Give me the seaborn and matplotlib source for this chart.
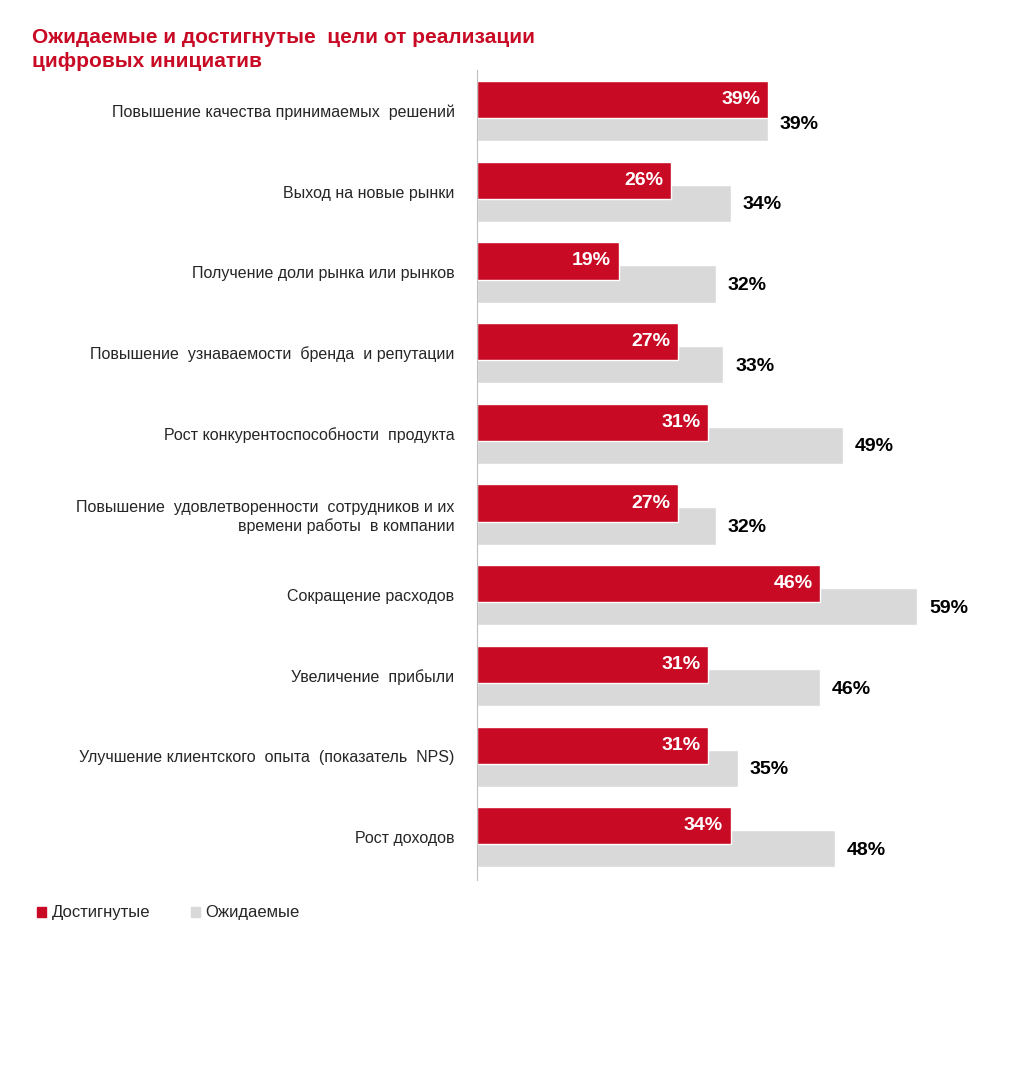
import numpy as np
import seaborn as sns
from matplotlib import pyplot as plt
from matplotlib.patches import Rectangle

categories = [
    "Повышение качества принимаемых  решений",
    "Выход на новые рынки",
    "Получение доли рынка или рынков",
    "Повышение  узнаваемости  бренда  и репутации",
    "Рост конкурентоспособности  продукта",
    "Повышение  удовлетворенности  сотрудников и их\nвремени работы  в компании",
    "Сокращение расходов",
    "Увеличение  прибыли",
    "Улучшение клиентского  опыта  (показатель  NPS)",
    "Рост доходов",
]
achieved = [39, 26, 19, 27, 31, 27, 46, 31, 31, 34]
expected = [39, 34, 32, 33, 49, 32, 59, 46, 35, 48]

RED = "#C80A24"
GRAY = "#D9D9D9"

sns.set_style("white")
plt.rcParams['font.family'] = ['Liberation Sans', 'DejaVu Sans']

fig = plt.figure(figsize=(10.32, 10.77), dpi=100)
ax = fig.add_axes([0.462, 0.183, 0.507, 0.752])

pos = np.arange(len(categories))
off = 0.285
sns.barplot(x=expected, y=pos + off, orient='h', native_scale=True,
            color=GRAY, width=0.46, saturation=1, ax=ax)
sns.barplot(x=achieved, y=pos, orient='h', native_scale=True,
            color=RED, width=0.46, saturation=1, ax=ax)

ax.set_xlim(0, 70.1)
ax.set_ylim(9.67, -0.366)
ax.set_xticks([])
ax.set_yticks(pos + 0.14)
ax.set_yticklabels(categories, fontsize=11.5, ha='right')
ax.tick_params(axis='y', length=0, pad=16)
ax.set_xlabel("")
ax.set_ylabel("")
for s in ['top', 'right', 'bottom']:
    ax.spines[s].set_visible(False)
ax.spines['left'].set_color('#BFBFBF')

for i in pos:
    ax.text(achieved[i] - 1.0, i, f"{achieved[i]}%", color='white',
            fontsize=14, fontweight='bold', ha='right', va='center')
    ax.text(expected[i] + 1.6, i + off + 0.02, f"{expected[i]}%", color='black',
            fontsize=14, fontweight='bold', ha='left', va='center')

fig.text(0.031, 0.974, "Ожидаемые и достигнутые  цели от реализации\nцифровых инициатив",
         color=RED, fontsize=15, fontweight='bold', va='top', linespacing=1.35)

fig.patches.append(Rectangle((0.036, 0.149), 0.009, 0.0085, color=RED,
                             transform=fig.transFigure))
fig.text(0.050, 0.153, "Достигнутые", fontsize=12, va='center')
fig.patches.append(Rectangle((0.185, 0.149), 0.009, 0.0085, color=GRAY,
                             transform=fig.transFigure))
fig.text(0.199, 0.153, "Ожидаемые", fontsize=12, va='center')

fig.savefig("out.png", dpi=100, facecolor='white')
